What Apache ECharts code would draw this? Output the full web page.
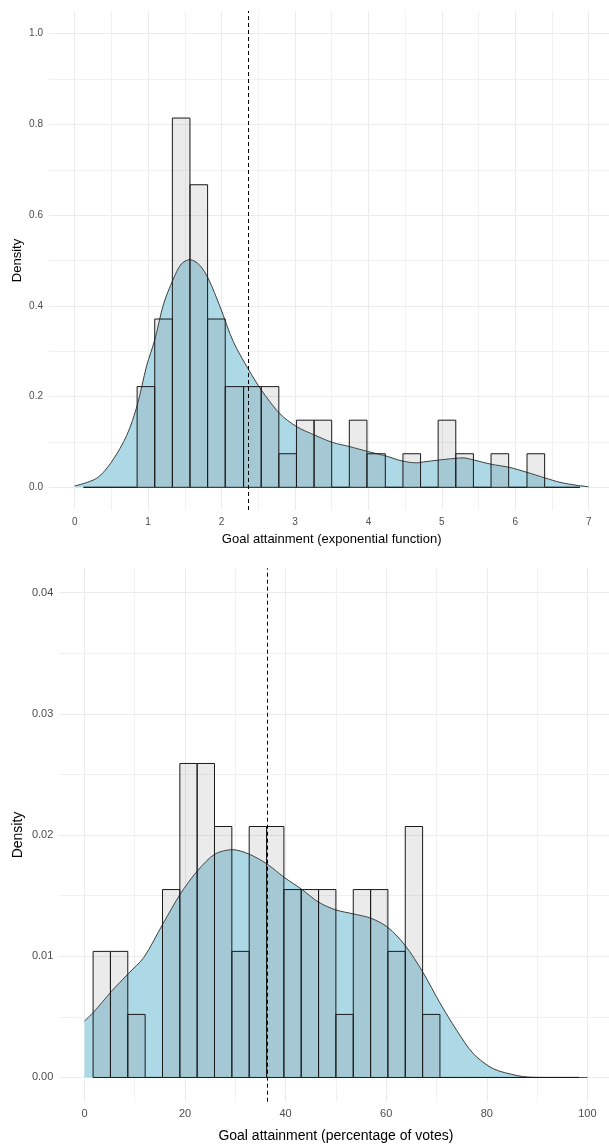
<!DOCTYPE html>
<html>
<head>
<meta charset="utf-8">
<script src="https://cdn.jsdelivr.net/npm/echarts@6/dist/echarts.min.js"></script>
<style>
html,body{margin:0;padding:0;background:#fff;}
#c{width:609px;height:1144px;}
</style>
</head>
<body>
<div id="c"></div>
<script>
// ---------- Top panel: exponential function ----------
const topBinEdges = [0.12,0.36,0.60,0.85,1.09,1.33,1.57,1.81,2.05,2.30,2.54,2.78,3.02,3.26,3.50,3.74,3.98,4.23,4.47,4.71,4.95,5.19,5.43,5.67,5.91,6.16,6.40,6.64,6.88];
const topBinDensity = [0,0,0,0.222,0.371,0.814,0.667,0.371,0.222,0.222,0.222,0.074,0.148,0.148,0,0.148,0.074,0,0.074,0,0.148,0.074,0,0.074,0,0.074,0,0];
const topCurveX = [0,0.3,0.51,0.71,0.85,0.98,1.09,1.21,1.34,1.45,1.57,1.7,1.82,1.98,2.16,2.37,2.54,2.79,3.02,3.27,3.51,3.74,3.99,4.24,4.46,4.66,4.75,4.95,5.19,5.29,5.44,5.67,5.92,6.16,6.4,6.61,6.84,7.0];
const topCurveY = [0.003,0.02,0.058,0.115,0.18,0.268,0.325,0.404,0.458,0.492,0.502,0.49,0.46,0.398,0.321,0.259,0.215,0.163,0.134,0.115,0.099,0.09,0.079,0.069,0.058,0.054,0.056,0.06,0.064,0.065,0.06,0.051,0.044,0.033,0.021,0.011,0.0044,0.0013];
const topMean = 2.36;
const topXTicks = [0,1,2,3,4,5,6,7];
const topXMinor = [0.5,1.5,2.5,3.5,4.5,5.5,6.5];
const topYTicks = [0,0.2,0.4,0.6,0.8,1.0];
const topYMinor = [0.1,0.3,0.5,0.7,0.9];

// ---------- Bottom panel: percentage of votes ----------
const botBinEdges = [1.72,5.17,8.62,12.07,15.52,18.97,22.41,25.86,29.31,32.76,36.21,39.66,43.10,46.55,50.00,53.45,56.90,60.34,63.79,67.24,70.69,74.14,77.59,81.03,84.48,87.93,91.38,94.83,98.28];
const botBinDensity = [0.0104,0.0104,0.0052,0,0.0155,0.0259,0.0259,0.0207,0.0104,0.0207,0.0207,0.0155,0.0155,0.0155,0.0052,0.0155,0.0155,0.0104,0.0207,0.0052,0,0,0,0,0,0,0,0];
const botCurveX = [0,1.85,5.36,8.68,11.8,15.6,19.07,22.5,25.96,29.47,32.7,36.3,39.7,43.1,46.6,50.0,53.5,57.0,60.3,63.8,67.3,70.6,74.05,77.35,81.3,86,88.2,92,100];
const botCurveY = [0.00465,0.0054,0.0071,0.00855,0.0099,0.01267,0.01514,0.01706,0.01843,0.01879,0.01843,0.01761,0.01651,0.01555,0.01445,0.01382,0.01349,0.01313,0.01239,0.01088,0.00868,0.00621,0.00387,0.00195,0.00072,0.00016,0.00003,0,0];
const botMean = 36.3;
const botXTicks = [0,20,40,60,80,100];
const botXMinor = [10,30,50,70,90];
const botYTicks = [0,0.01,0.02,0.03,0.04];
const botYMinor = [0.005,0.015,0.025,0.035];

const FONT = '"Liberation Sans", Arial, sans-serif';
const GRID_C = '#ebebeb';

function binsData(edges, dens){
  return dens.map((d,i)=>[edges[i], edges[i+1], d]);
}
function curveData(xs, ys){ return xs.map((x,i)=>[x, ys[i]]); }

function renderBar(params, api){
  const p0 = api.coord([api.value(0), api.value(2)]);
  const p1 = api.coord([api.value(1), 0]);
  return {
    type:'rect',
    shape:{x:p0[0], y:p0[1], width:p1[0]-p0[0], height:p1[1]-p0[1]},
    style:{fill:'rgba(110,110,110,0.14)', stroke:'#1a1a1a', lineWidth:1}
  };
}

function majorX(gi, mn, mx, ticks, name, fs, lfs, gap, dec){
  return {type:'value', gridIndex:gi, min:mn, max:mx, position:'bottom',
    axisLine:{show:false, onZero:false},
    axisTick:{show:false, customValues:ticks},
    axisLabel:{customValues:ticks, color:'#4d4d4d', fontSize:lfs, fontFamily:FONT, margin:7,
      formatter:v=>v.toFixed(dec)},
    splitLine:{show:true, lineStyle:{color:GRID_C, width:1}},
    name:name, nameLocation:'middle', nameGap:gap, nameMoveOverlap:false,
    nameTextStyle:{color:'#000', fontSize:fs, fontFamily:FONT}
  };
}
function minorAxis(type, gi, mn, mx, ticks){
  return {type:'value', gridIndex:gi, min:mn, max:mx, position: type==='x'?'bottom':'left',
    axisLine:{show:false, onZero:false}, axisTick:{show:false, customValues:ticks},
    axisLabel:{show:false, customValues:ticks},
    splitLine:{show:true, lineStyle:{color:'#f1f1f1', width:1}}};
}
function majorY(gi, mn, mx, ticks, fs, lfs, gap, dec){
  return {type:'value', gridIndex:gi, min:mn, max:mx, position:'left',
    axisLine:{show:false, onZero:false},
    axisTick:{show:false, customValues:ticks},
    axisLabel:{customValues:ticks, color:'#4d4d4d', fontSize:lfs, fontFamily:FONT, margin:6,
      formatter:v=>v.toFixed(dec)},
    splitLine:{show:true, lineStyle:{color:GRID_C, width:1}},
    name:'Density', nameLocation:'middle', nameGap:gap, nameRotate:90, nameMoveOverlap:false,
    nameTextStyle:{color:'#000', fontSize:fs, fontFamily:FONT}
  };
}

const chart = echarts.init(document.getElementById('c'), null, {renderer:'canvas'});
chart.setOption({
  animation:false,
  backgroundColor:'#fff',
  grid:[
    {left:49, top:11, right:-5.4, bottom:634, containLabel:false, outerBoundsMode:'none'},
    {left:59.3, top:568.3, right:-3.5, bottom:42.3, containLabel:false, outerBoundsMode:'none'}
  ],
  xAxis:[
    minorAxis('x',0,-0.35,7.35,topXMinor),
    majorX(0,-0.35,7.35,topXTicks,'Goal attainment (exponential function)',13,10,23,0),
    minorAxis('x',1,-5,105,botXMinor),
    majorX(1,-5,105,botXTicks,'Goal attainment (percentage of votes)',14,11,27,0)
  ],
  yAxis:[
    minorAxis('y',0,-0.05,1.05,topYMinor),
    majorY(0,-0.05,1.05,topYTicks,13,10,25,1),
    minorAxis('y',1,-0.002,0.042,botYMinor),
    majorY(1,-0.002,0.042,botYTicks,14,11,34,2)
  ],
  series:[
    {type:'line', xAxisIndex:1, yAxisIndex:1, data:curveData(topCurveX, topCurveY), smooth:0.3,
      symbol:'none', z:1, lineStyle:{color:'#2b2b2b', width:0.9}, areaStyle:{color:'#add8e6', opacity:1, origin:0}},
    {type:'custom', xAxisIndex:1, yAxisIndex:1, data:binsData(topBinEdges, topBinDensity), renderItem:renderBar,
      encode:{x:[0,1], y:2}, z:2},
    {type:'line', xAxisIndex:1, yAxisIndex:1, data:[], z:3, symbol:'none',
      markLine:{silent:true, symbol:['none','none'], label:{show:false},
        lineStyle:{color:'#000', type:[4,3], width:1}, data:[{xAxis:topMean}]}},

    {type:'line', xAxisIndex:3, yAxisIndex:3, data:curveData(botCurveX, botCurveY), smooth:0.3,
      symbol:'none', z:1, lineStyle:{color:'#2b2b2b', width:0.9}, areaStyle:{color:'#add8e6', opacity:1, origin:0}},
    {type:'custom', xAxisIndex:3, yAxisIndex:3, data:binsData(botBinEdges, botBinDensity), renderItem:renderBar,
      encode:{x:[0,1], y:2}, z:2},
    {type:'line', xAxisIndex:3, yAxisIndex:3, data:[], z:3, symbol:'none',
      markLine:{silent:true, symbol:['none','none'], label:{show:false},
        lineStyle:{color:'#000', type:[4,3], width:1}, data:[{xAxis:botMean}]}}
  ]
});
</script>
</body>
</html>
